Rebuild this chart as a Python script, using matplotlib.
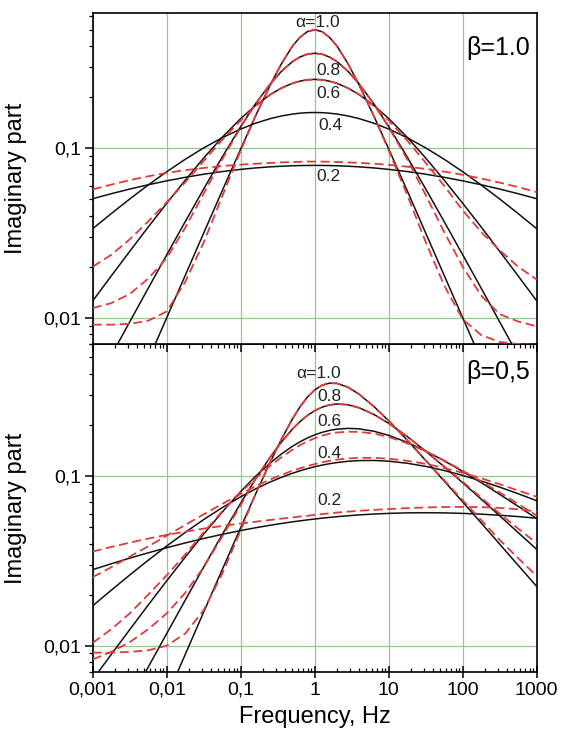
import matplotlib
matplotlib.use("Agg")
import matplotlib.pyplot as plt
from matplotlib.ticker import LogLocator, NullFormatter

plt.rcParams['font.family'] = ['Liberation Sans', 'DejaVu Sans']

# frequency grid, Hz
freq = [0.001, 0.00178, 0.00316, 0.00562, 0.01, 0.0178, 0.0316, 0.0562, 0.1,
        0.158, 0.251, 0.355, 0.501, 0.631, 0.794, 1.0, 1.26, 1.58, 2.0, 2.82,
        3.98, 6.31, 10, 17.8, 31.6, 56.2, 100, 178, 316, 562, 1000]

# ---- beta = 1.0 : model curves (black) ----
b1_a10 = [0.001, 0.00178, 0.00316, 0.00562, 0.0100, 0.01778, 0.0316, 0.0561, 0.0990,
          0.1546, 0.2363, 0.3151, 0.4006, 0.4513, 0.4870, 0.5000, 0.4870, 0.4513, 0.4006,
          0.3151, 0.2363, 0.1546, 0.0990, 0.0561, 0.0316, 0.01778, 0.0100, 0.00562,
          0.00316, 0.00178, 0.001]
b1_a08 = [0.00378, 0.00598, 0.00945, 0.01492, 0.02351, 0.0369, 0.05754, 0.08874, 0.1342,
          0.1825, 0.2396, 0.2843, 0.3245, 0.3452, 0.3586, 0.3633, 0.3586, 0.3452, 0.3245,
          0.2843, 0.2396, 0.1825, 0.1342, 0.08874, 0.05754, 0.0369, 0.02351, 0.01492,
          0.00945, 0.00598, 0.00378]
b1_a06 = [0.01258, 0.01764, 0.02464, 0.03427, 0.04734, 0.0648, 0.08751, 0.1160, 0.1496,
          0.1787, 0.2073, 0.2263, 0.2415, 0.2487, 0.2532, 0.2548, 0.2532, 0.2487, 0.2415,
          0.2263, 0.2073, 0.1787, 0.1496, 0.1160, 0.08751, 0.0648, 0.04734, 0.03427,
          0.02464, 0.01764, 0.01258]
b1_a04 = [0.03353, 0.04114, 0.05016, 0.06068, 0.07269, 0.08607, 0.10047, 0.11533, 0.12981,
          0.14042, 0.14952, 0.15500, 0.15908, 0.16095, 0.16209, 0.16246, 0.16209, 0.16095,
          0.15908, 0.15500, 0.14952, 0.14042, 0.12981, 0.11533, 0.10047, 0.08607, 0.07269,
          0.06068, 0.05016, 0.04114, 0.03353]
b1_a02 = [0.05037, 0.05391, 0.05743, 0.06088, 0.06421, 0.06736, 0.07025, 0.07283, 0.07503,
          0.07650, 0.07766, 0.07832, 0.07880, 0.07901, 0.07914, 0.07919, 0.07914, 0.07901,
          0.07880, 0.07832, 0.07766, 0.07650, 0.07503, 0.07283, 0.07025, 0.06736, 0.06421,
          0.06088, 0.05743, 0.05391, 0.05037]

# ---- beta = 1.0 : approximation (red dashed) ----
b1_fit_a10 = [0.0091, 0.0091, 0.0092, 0.0096, 0.0109, 0.0163, 0.0278, 0.052, 0.097,
              0.1546, 0.2363, 0.3151, 0.4006, 0.4513, 0.4870, 0.5000, 0.4870, 0.4513, 0.4006,
              0.3151, 0.2363, 0.1546, 0.097, 0.053, 0.028, 0.0155, 0.0098, 0.0079,
              0.0072, 0.0070, 0.0069]
b1_fit_a08 = [0.0114, 0.0122, 0.0138, 0.0170, 0.0225, 0.034, 0.054, 0.086, 0.133,
              0.1825, 0.2396, 0.2843, 0.3245, 0.3452, 0.3586, 0.3633, 0.3586, 0.3452, 0.3245,
              0.2843, 0.2396, 0.1825, 0.133, 0.086, 0.053, 0.032, 0.020, 0.0135,
              0.0105, 0.0095, 0.0089]
b1_fit_a06 = [0.0200, 0.0235, 0.0290, 0.037, 0.048, 0.063, 0.084, 0.112, 0.146,
              0.1770, 0.2073, 0.2263, 0.2415, 0.2487, 0.2532, 0.2548, 0.2532, 0.2487, 0.2415,
              0.2263, 0.2073, 0.1770, 0.146, 0.111, 0.082, 0.060, 0.043, 0.032,
              0.025, 0.020, 0.0168]
b1_fit_a02 = [0.0572, 0.0610, 0.0648, 0.0683, 0.0715, 0.0742, 0.0765, 0.0785, 0.0800,
              0.0810, 0.0819, 0.0825, 0.0829, 0.0832, 0.0834, 0.0834, 0.0834, 0.0832,
              0.0829, 0.0825, 0.0819, 0.0810, 0.0798, 0.0778, 0.0755, 0.0728, 0.0697,
              0.0663, 0.0627, 0.0590, 0.0551]

# ---- beta = 0.5 : model curves (black) ----
b05_a10 = [0.0005, 0.00089, 0.00158, 0.00281, 0.0050, 0.00889, 0.0158, 0.02806, 0.04969,
           0.07802, 0.12087, 0.16470, 0.21767, 0.25542, 0.29146, 0.32180, 0.34287, 0.35275,
           0.35164, 0.33360, 0.30354, 0.25694, 0.21166, 0.16278, 0.12371, 0.09344, 0.07035,
           0.05288, 0.03970, 0.02977, 0.02235]
b05_a08 = [0.00189, 0.00299, 0.00473, 0.00748, 0.01180, 0.01857, 0.02909, 0.04519, 0.06928,
           0.09585, 0.12953, 0.15869, 0.18934, 0.20921, 0.22743, 0.24293, 0.25483, 0.26253,
           0.26584, 0.26303, 0.25256, 0.23066, 0.20442, 0.17092, 0.14013, 0.11351, 0.09127,
           0.07305, 0.05830, 0.04645, 0.03697]
b05_a06 = [0.00632, 0.00888, 0.01244, 0.01737, 0.02413, 0.03330, 0.04550, 0.06132, 0.08106,
           0.09948, 0.11953, 0.13491, 0.14981, 0.15907, 0.16750, 0.17488, 0.18100, 0.18572,
           0.18896, 0.19097, 0.18972, 0.18366, 0.17375, 0.15798, 0.14053, 0.12303, 0.10648,
           0.09140, 0.07800, 0.06629, 0.05618]
b05_a04 = [0.01720, 0.02124, 0.02610, 0.03190, 0.03870, 0.04655, 0.05541, 0.06515, 0.07550,
           0.08395, 0.09228, 0.09826, 0.10386, 0.10732, 0.11052, 0.11343, 0.11601, 0.11823,
           0.12009, 0.12216, 0.12334, 0.12356, 0.12232, 0.11897, 0.11399, 0.10782, 0.10087,
           0.09351, 0.08604, 0.07867, 0.07157]
b05_a02 = [0.02808, 0.03041, 0.03282, 0.03527, 0.03781, 0.04034, 0.04286, 0.04533, 0.04773,
           0.04956, 0.05130, 0.05254, 0.05371, 0.05445, 0.05515, 0.05582, 0.05646, 0.05705,
           0.05760, 0.05835, 0.05900, 0.05972, 0.06025, 0.06066, 0.06079, 0.06065, 0.06025,
           0.05961, 0.05874, 0.05768, 0.05644]

# ---- beta = 0.5 : approximation (red dashed) ----
b05_fit_a10 = [0.0091, 0.0091, 0.0092, 0.0094, 0.0100, 0.0118, 0.0162, 0.0265, 0.0480,
               0.07802, 0.12087, 0.16470, 0.21767, 0.25542, 0.29146, 0.32180, 0.34287, 0.35275,
               0.35164, 0.33360, 0.30354, 0.25694, 0.21166, 0.16278, 0.12371, 0.0945, 0.0720,
               0.0550, 0.0420, 0.0328, 0.0258]
b05_fit_a08 = [0.0083, 0.0092, 0.0105, 0.0125, 0.0155, 0.0205, 0.0290, 0.0440, 0.0675,
               0.09585, 0.12953, 0.15869, 0.18934, 0.20921, 0.22743, 0.24293, 0.25483, 0.26253,
               0.26584, 0.26303, 0.25256, 0.23066, 0.20442, 0.17092, 0.14013, 0.1140, 0.0925,
               0.0745, 0.0600, 0.0490, 0.0402]
b05_fit_a06 = [0.0104, 0.0125, 0.0155, 0.0200, 0.0260, 0.0345, 0.0465, 0.0620, 0.0800,
               0.0970, 0.1150, 0.1290, 0.1430, 0.1520, 0.1600, 0.1670, 0.1730, 0.1775,
               0.1805, 0.1825, 0.1820, 0.1780, 0.1700, 0.1560, 0.1400, 0.1235, 0.1075,
               0.0930, 0.0800, 0.0685, 0.0585]
b05_fit_a04 = [0.0254, 0.0290, 0.0335, 0.0385, 0.0445, 0.0515, 0.0595, 0.0685, 0.0785,
               0.0870, 0.0955, 0.1015, 0.1075, 0.1110, 0.1145, 0.1175, 0.1205, 0.1230,
               0.1250, 0.1270, 0.1280, 0.1280, 0.1265, 0.1230, 0.1180, 0.1115, 0.1045,
               0.0970, 0.0895, 0.0822, 0.0755]
b05_fit_a02 = [0.0359, 0.0382, 0.0405, 0.0428, 0.0450, 0.0470, 0.0490, 0.0508, 0.0525,
               0.0538, 0.0551, 0.0561, 0.0570, 0.0577, 0.0583, 0.0590, 0.0597, 0.0603,
               0.0609, 0.0617, 0.0624, 0.0632, 0.0639, 0.0647, 0.0653, 0.0657, 0.0658,
               0.0656, 0.0649, 0.0637, 0.0617]

x_ticks = [0.001, 0.01, 0.1, 1, 10, 100, 1000]
x_tick_labels = ['0,001', '0,01', '0,1', '1', '10', '100', '1000']
y_ticks = [0.01, 0.1]
y_tick_labels = ['0,01', '0,1']
curve_labels = ['\u03b1=1.0', '0.8', '0.6', '0.4', '0.2']

BLACK = '#111111'
RED = '#e03a3a'
GRID = '#8fcc86'

fig = plt.figure(figsize=(5.63, 7.31), dpi=100)
ax1 = fig.add_axes([0.1647, 0.5294, 0.7886, 0.4532])
ax2 = fig.add_axes([0.1647, 0.0807, 0.7886, 0.4487])
ax1.set_zorder(3)


def style_axes(ax, ylim):
    ax.set_xscale('log')
    ax.set_yscale('log')
    ax.set_xlim(0.001, 1000)
    ax.set_ylim(*ylim)
    for s in ax.spines.values():
        s.set_linewidth(1.2)
    ax.set_yticks(y_ticks)
    ax.set_yticklabels(y_tick_labels)
    ax.yaxis.set_minor_locator(LogLocator(base=10, subs=range(2, 10)))
    ax.yaxis.set_minor_formatter(NullFormatter())
    ax.set_xticks(x_ticks)
    ax.xaxis.set_minor_locator(LogLocator(base=10, subs=range(2, 10), numticks=20))
    ax.xaxis.set_minor_formatter(NullFormatter())
    ax.grid(True, which='major', color=GRID, linewidth=0.9)
    ax.grid(False, which='minor')
    ax.set_axisbelow(True)
    ax.tick_params(axis='y', which='major', direction='out', length=6, width=1.1,
                   labelsize=14, pad=2)
    ax.tick_params(axis='y', which='minor', direction='out', length=3, width=0.9)
    ax.set_ylabel('Imaginary part', fontsize=17)
    ax.yaxis.set_label_coords(-0.148, 0.5)


style_axes(ax1, (0.007, 0.63))
style_axes(ax2, (0.007, 0.6))

# top panel: x ticks point down across the panel border, no labels
ax1.tick_params(axis='x', which='major', direction='out', length=6, width=1.1,
                labelbottom=False)
ax1.tick_params(axis='x', which='minor', direction='out', length=3, width=0.9)
# bottom panel
ax2.set_xticklabels(x_tick_labels)
ax2.tick_params(axis='x', which='major', direction='inout', length=8, width=1.1,
                labelsize=14, pad=3)
ax2.tick_params(axis='x', which='minor', direction='in', length=3, width=0.9)
ax2.set_xlabel('Frequency, Hz', fontsize=17, labelpad=5)

line_kw = dict(color=BLACK, linewidth=1.1, zorder=3)
dash_kw = dict(color=RED, linewidth=1.3, linestyle=(0, (5, 2.5)), zorder=4)

for y in [b1_a10, b1_a08, b1_a06, b1_a04, b1_a02]:
    ax1.plot(freq, y, **line_kw)
for y in [b1_fit_a10, b1_fit_a08, b1_fit_a06, b1_fit_a02]:
    ax1.plot(freq, y, **dash_kw)

for y in [b05_a10, b05_a08, b05_a06, b05_a04, b05_a02]:
    ax2.plot(freq, y, **line_kw)
for y in [b05_fit_a10, b05_fit_a08, b05_fit_a06, b05_fit_a04, b05_fit_a02]:
    ax2.plot(freq, y, **dash_kw)

# curve labels (axes fractions)
top_pos = [(0.506, 0.970), (0.531, 0.825), (0.531, 0.757), (0.535, 0.661), (0.531, 0.505)]
bot_pos = [(0.509, 0.911), (0.533, 0.841), (0.533, 0.763), (0.533, 0.667), (0.533, 0.522)]
for lab, (px, py) in zip(curve_labels, top_pos):
    ax1.text(px, py, lab, transform=ax1.transAxes, fontsize=12.5, ha='center',
             va='center', color='#222222', zorder=5)
for lab, (px, py) in zip(curve_labels, bot_pos):
    ax2.text(px, py, lab, transform=ax2.transAxes, fontsize=12.5, ha='center',
             va='center', color='#222222', zorder=5)

ax1.text(0.914, 0.893, '\u03b2=1.0', transform=ax1.transAxes, fontsize=18,
         ha='center', va='center', zorder=5)
ax2.text(0.914, 0.915, '\u03b2=0,5', transform=ax2.transAxes, fontsize=18,
         ha='center', va='center', zorder=5)

fig.savefig('out.png', dpi=100)
